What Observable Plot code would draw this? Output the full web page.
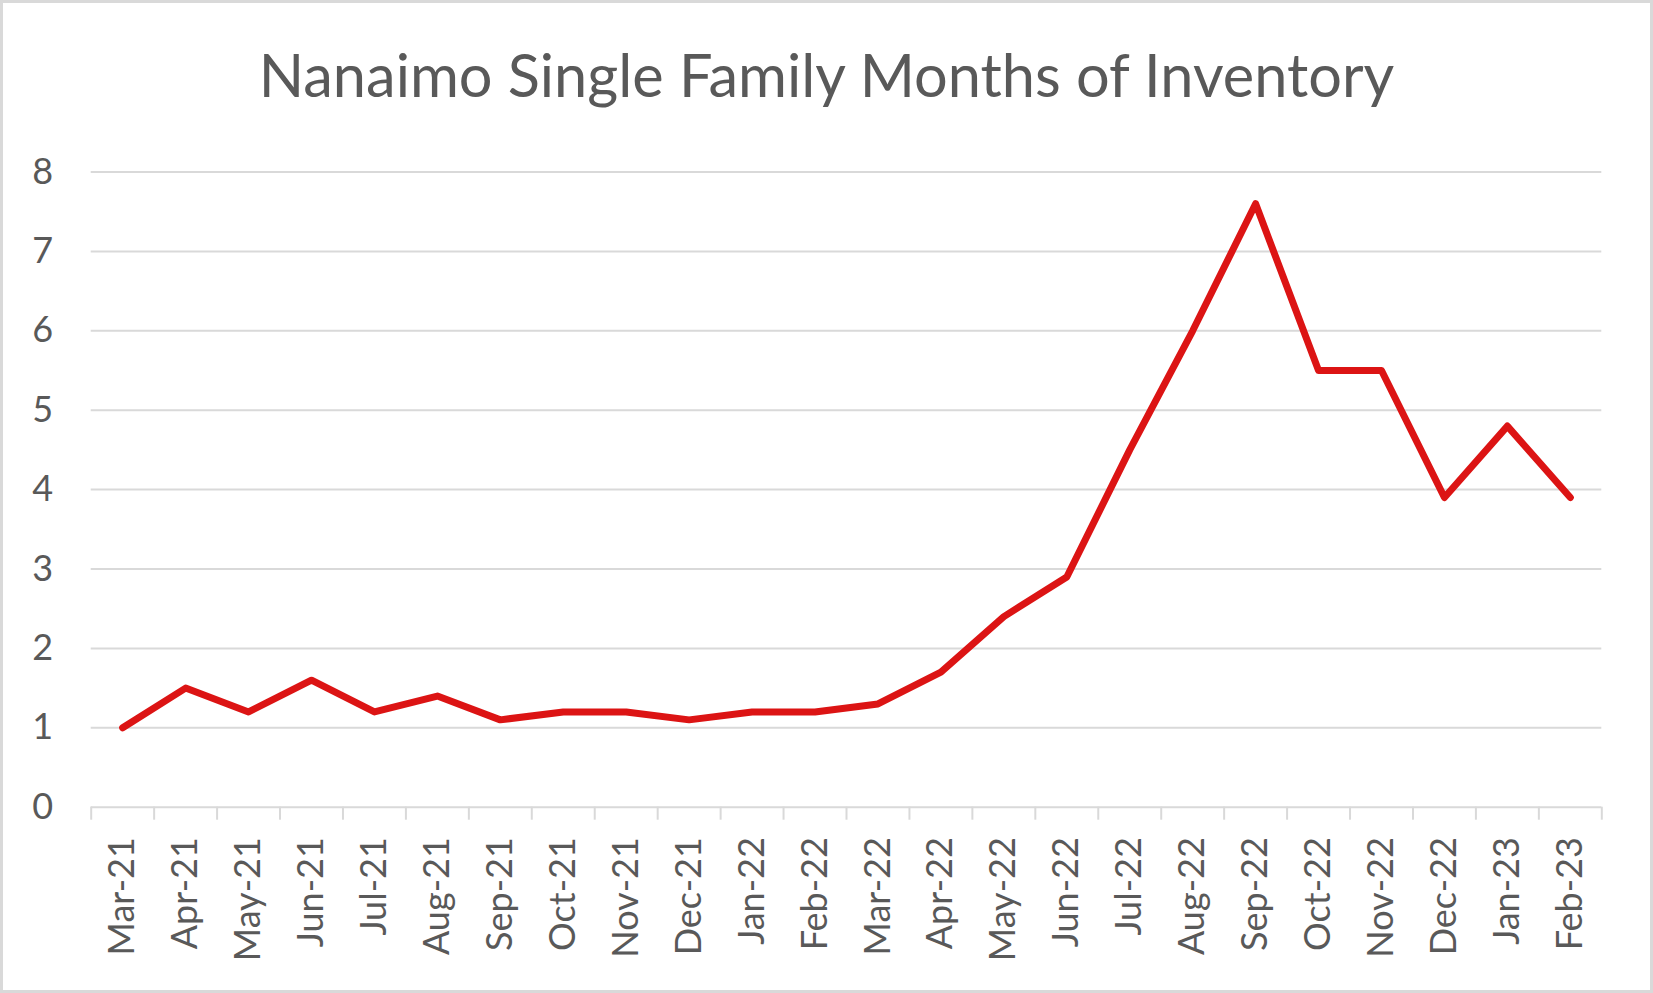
<!DOCTYPE html>
<html>
<head>
<meta charset="utf-8">
<script src="https://cdn.jsdelivr.net/npm/d3@7"></script>
<script src="https://cdn.jsdelivr.net/npm/@observablehq/plot@0.6"></script>
<style>
  html, body { margin: 0; padding: 0; background: #fff; }
  body { width: 1653px; height: 993px; position: relative; overflow: hidden; font-family: Lato, sans-serif; }
  #frame { position: absolute; left: 0; top: 0; width: 1653px; height: 993px; box-sizing: border-box; border: 3px solid #d9d9d9; pointer-events: none; }
  #title { position: absolute; left: 0; top: 45px; width: 1653px; text-align: center; font-size: 59.5px; line-height: 59.5px; color: #595959; font-family: Lato, sans-serif; font-weight: 400; white-space: nowrap; }
  #chart { position: absolute; left: 0; top: 110px; }
</style>
</head>
<body>
<div id="title">Nanaimo Single Family Months of Inventory</div>
<div id="chart"></div>
<div id="frame"></div>
<script>
const months = ["Mar-21","Apr-21","May-21","Jun-21","Jul-21","Aug-21","Sep-21","Oct-21","Nov-21","Dec-21","Jan-22","Feb-22","Mar-22","Apr-22","May-22","Jun-22","Jul-22","Aug-22","Sep-22","Oct-22","Nov-22","Dec-22","Jan-23","Feb-23"];
const values = [1.0,1.5,1.2,1.6,1.2,1.4,1.1,1.2,1.2,1.1,1.2,1.2,1.3,1.7,2.4,2.9,4.5,6.0,7.6,5.5,5.5,3.9,4.8,3.9];
const yTicks = [0,1,2,3,4,5,6,7,8];

const data = months.map((m, i) => ({month: m, idx: i, value: values[i]}));
const boundaries = d3.range(months.length + 1);
const centers = months.map((m, i) => i + 0.5);

const plot = Plot.plot({
  width: 1653,
  height: 880,
  marginLeft: 90.7,
  marginRight: 51.7,
  marginTop: 61.5,
  marginBottom: 183.3,
  style: {fontFamily: "Lato, sans-serif", color: "#595959", background: "transparent", overflow: "visible"},
  x: {domain: [0, months.length]},
  y: {domain: [0, 8]},
  marks: [
    Plot.gridY(yTicks, {stroke: "#d9d9d9", strokeOpacity: 1, strokeWidth: 2}),
    Plot.axisX(boundaries, {tickSize: 13, tickFormat: () => "", stroke: "#d9d9d9", strokeWidth: 2}),
    Plot.axisX(centers, {tickSize: 0, tickPadding: 30, tickRotate: -90, tickFormat: d => months[Math.floor(d)], fontSize: 36, fill: "#595959"}),
    Plot.axisY(yTicks, {tickSize: 0, tickPadding: 38, fontSize: 36, fill: "#595959", tickFormat: d => String(d), label: null}),
    Plot.line(data, {x: d => d.idx + 0.5, y: "value", stroke: "#dc1414", strokeWidth: 7, strokeLinejoin: "round", strokeLinecap: "round"})
  ]
});
document.getElementById("chart").appendChild(plot);
</script>
</body>
</html>
